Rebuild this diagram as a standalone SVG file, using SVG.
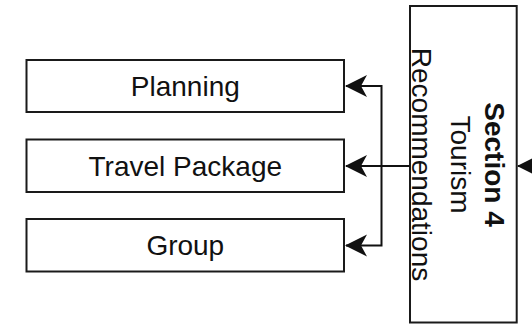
<svg xmlns="http://www.w3.org/2000/svg" width="532" height="325" viewBox="0 0 532 325">
<style>
.box{fill:#fff;stroke:#1a1a1a;stroke-width:2}
.lbl{font-family:"Liberation Sans",Arial,sans-serif;font-size:28px;fill:#111;text-anchor:middle}
.b{font-weight:bold}
.conn{fill:none;stroke:#111;stroke-width:2}
</style>
<defs>
<marker id="arr" markerUnits="userSpaceOnUse" markerWidth="22" markerHeight="24" viewBox="0 0 22 24" refX="21" refY="12" orient="auto">
<path d="M22,12 L0,1 L6,12 L0,23 Z" fill="#111"/>
</marker>
</defs>
<rect width="532" height="325" fill="#fff"/>
<g id="section4">
<rect class="box" x="410" y="6" width="106.7" height="316.5"/>
<text class="lbl b" transform="translate(485,164.5) rotate(90)">Section 4</text>
<text class="lbl" transform="translate(451,164.5) rotate(90)">Tourism</text>
<text class="lbl" transform="translate(412,164.5) rotate(90)">Recommendations</text>
</g>
<g id="planning">
<rect class="box" x="26.5" y="60" width="317.5" height="52"/>
<text class="lbl" x="185.3" y="96">Planning</text>
</g>
<g id="travel-package">
<rect class="box" x="26.5" y="139.5" width="317.5" height="52.5"/>
<text class="lbl" x="185.3" y="175.5">Travel Package</text>
</g>
<g id="group">
<rect class="box" x="26.5" y="219" width="317.5" height="52.5"/>
<text class="lbl" x="185.3" y="255">Group</text>
</g>
<g id="connectors">
<path class="conn" d="M410,166 L346,166" marker-end="url(#arr)"/>
<path class="conn" d="M381.5,166 L381.5,86 L346,86" marker-end="url(#arr)"/>
<path class="conn" d="M381.5,166 L381.5,245.5 L346,245.5" marker-end="url(#arr)"/>
<path class="conn" d="M545,166 L518,166" marker-end="url(#arr)"/>
</g>
</svg>
